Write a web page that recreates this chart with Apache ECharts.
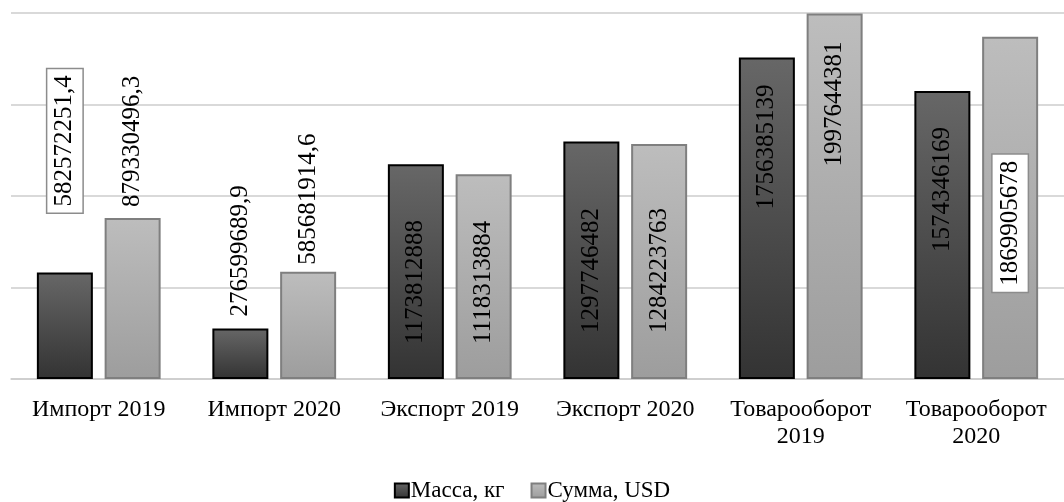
<!DOCTYPE html>
<html>
<head>
<meta charset="utf-8">
<script src="https://cdn.jsdelivr.net/npm/echarts@6/dist/echarts.min.js"></script>
<style>
  html, body { margin: 0; padding: 0; background: #fff; }
  #chart { width: 1064px; height: 502px; }
</style>
</head>
<body>
<div id="chart"></div>
<script>
const categories = ['Импорт 2019', 'Импорт 2020', 'Экспорт 2019', 'Экспорт 2020', 'Товарооборот\n2019', 'Товарооборот\n2020'];
const seriesNames = ['Масса, кг', 'Сумма, USD'];
const massKg = [582572251.4, 276599689.9, 1173812888, 1297746482, 1756385139, 1574346169];
const sumUsd = [879330496.3, 585681914.6, 1118313884, 1284223763, 1997644381, 1869905678];
const yTicks = [0, 500000000, 1000000000, 1500000000, 2000000000];

// label placement per bar: [position, distance, boxed]
const massLabelSpec = [['top', 60, true], ['top', 12, false], ['insideBottom', 35, false], ['insideBottom', 46, false], ['insideTop', 27, false], ['insideTop', 36, false]];
const usdLabelSpec = [['top', 11, false], ['top', 7, false], ['insideBottom', 35, false], ['insideBottom', 46, false], ['insideTop', 28, false], ['insideTop', 118, true]];

const FONT = "'Liberation Serif', 'DejaVu Serif', serif";

function fmt(v) { return String(v).replace('.', ','); }

function buildData(values, spec) {
  return values.map((v, i) => {
    const [pos, dist, boxed] = spec[i];
    const label = {
      position: pos,
      distance: dist,
      align: pos === 'insideTop' ? 'right' : 'left',
      verticalAlign: 'middle'
    };
    if (boxed) {
      Object.assign(label, {
        backgroundColor: '#ffffff',
        borderColor: '#8c8c8c',
        borderWidth: 1.5,
        padding: [5, 6]
      });
    }
    return { value: v, label: label };
  });
}

const chart = echarts.init(document.getElementById('chart'), null, { renderer: 'canvas' });

const baseLabel = {
  show: true,
  rotate: 90,
  fontFamily: FONT,
  fontSize: 25,
  color: '#000',
  formatter: p => fmt(p.value)
};

chart.setOption({
  animation: false,
  backgroundColor: '#ffffff',
  grid: { left: 11, top: 13, width: 1062, height: 366, containLabel: false },
  legend: {
    data: seriesNames,
    icon: 'rect',
    top: 474,
    left: 'center',
    itemWidth: 14,
    itemHeight: 14,
    itemGap: 26,
    textStyle: { fontFamily: FONT, fontSize: 23, color: '#000', padding: [0, 0, 0, -3] }
  },
  xAxis: {
    type: 'category',
    data: categories,
    axisTick: { show: false },
    axisLine: { show: true, lineStyle: { color: '#cccccc', width: 1.5 } },
    axisLabel: {
      interval: 0,
      margin: 17,
      fontFamily: FONT,
      fontSize: 24,
      lineHeight: 27,
      color: '#000'
    }
  },
  yAxis: {
    type: 'value',
    min: yTicks[0],
    max: yTicks[yTicks.length - 1],
    interval: yTicks[1] - yTicks[0],
    axisLabel: { show: false },
    axisLine: { show: false },
    axisTick: { show: false },
    splitLine: { lineStyle: { color: '#cccccc', width: 1.5 } }
  },
  series: [
    {
      name: seriesNames[0],
      type: 'bar',
      barWidth: 56,
      barGap: '21%',
      itemStyle: {
        color: new echarts.graphic.LinearGradient(0, 0, 0, 1, [
          { offset: 0, color: '#676767' },
          { offset: 1, color: '#333333' }
        ]),
        borderColor: '#000000',
        borderWidth: 2
      },
      label: baseLabel,
      data: buildData(massKg, massLabelSpec)
    },
    {
      name: seriesNames[1],
      type: 'bar',
      barWidth: 56,
      barGap: '21%',
      itemStyle: {
        color: new echarts.graphic.LinearGradient(0, 0, 0, 1, [
          { offset: 0, color: '#bdbdbd' },
          { offset: 1, color: '#9d9d9d' }
        ]),
        borderColor: '#7f7f7f',
        borderWidth: 2
      },
      label: baseLabel,
      data: buildData(sumUsd, usdLabelSpec)
    }
  ]
});
</script>
</body>
</html>
